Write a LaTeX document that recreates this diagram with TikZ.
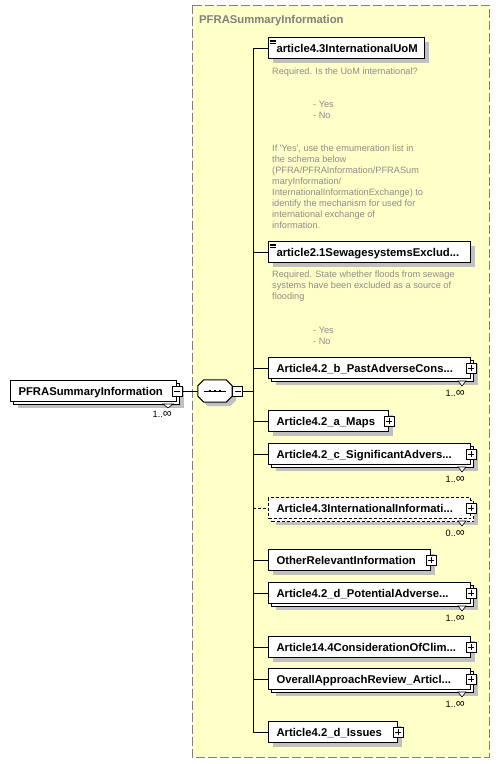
\documentclass[tikz,border=0pt]{standalone}
\usepackage{fontspec}
\setsansfont{Liberation Sans}
\usetikzlibrary{positioning,shadows}

\definecolor{groupfill}{RGB}{255,255,200}
\definecolor{groupline}{RGB}{128,128,128}
\definecolor{shadowgray}{RGB}{192,192,192}
\definecolor{notegray}{RGB}{140,140,140}
\newcommand\unbounded{{\fontsize{12.5}{12}\selectfont ∞}}

\begin{document}
\begin{tikzpicture}[
  x=1pt, y=-1pt,
  font=\sffamily,
  box/.style={draw, fill=white, line width=1pt, anchor=west, align=left,
              text width=#1, minimum height=21pt, inner xsep=8pt, inner ysep=0pt,
              text height=10pt, text depth=1.6pt,
              font=\sffamily\bfseries\fontsize{11.3}{13}\selectfont},
  box/.default=186pt,
  elem/.style={box=#1, drop shadow={shadow xshift=4pt, shadow yshift=-4pt,
               fill=shadowgray, draw=none, opacity=1}},
  elem/.default=186pt,
  multi/.style={box=#1, drop shadow={shadow xshift=7pt, shadow yshift=-6pt,
                fill=shadowgray, draw=none, opacity=1},
                copy shadow={shadow xshift=3pt, shadow yshift=-3pt, draw, fill=white}},
  multi/.default=186pt,
  optional/.style={dash pattern=on 3pt off 2pt},
  toggle/.style={draw, fill=white, line width=0.8pt, minimum size=10pt, inner sep=0pt},
  plus/.style={toggle, path picture={
      \draw ([xshift=-3pt]path picture bounding box.center) -- ([xshift=3pt]path picture bounding box.center);
      \draw ([yshift=-3pt]path picture bounding box.center) -- ([yshift=3pt]path picture bounding box.center);}},
  minus/.style={toggle, path picture={
      \draw ([xshift=-3pt]path picture bounding box.center) -- ([xshift=3pt]path picture bounding box.center);}},
  seq/.style={minimum width=34pt, minimum height=22pt, inner sep=0pt},
  octagon/.style={draw, fill=white, line width=1pt,
              drop shadow={shadow xshift=4pt, shadow yshift=-4pt, fill=shadowgray, draw=none, opacity=1}},
  card/.style={anchor=base east, inner sep=0pt, font=\sffamily\fontsize{9.2}{11}\selectfont},
  note/.style={anchor=base west, inner sep=0pt, align=left, text=notegray,
               font=\sffamily\fontsize{9.2}{11}\selectfont},
  grouptitle/.style={anchor=base west, inner sep=0pt, text=groupline,
               font=\sffamily\bfseries\fontsize{11.3}{13}\selectfont},
  wire/.style={line width=1pt},
  chev/.style={fill=white, line width=0.6pt},
]
  \useasboundingbox (0,0) rectangle (500,764);

  % group
  \draw[fill=groupfill, draw=groupline, line width=1pt, dash pattern=on 9pt off 3pt]
    (192,5) rectangle (489,757);
  \node[grouptitle] (grp) at (199,23) {PFRASummaryInformation};

  % bus
  \coordinate (bustop) at (253,48);
  \coordinate (busend) at (253,732);
  \draw[wire] (bustop) -- (busend);

  % left element and sequence
  \node[multi=150pt] (pfra) at (10,391) {PFRASummaryInformation};
  \node[minus] (pfrax) at (pfra.east) {};
  \draw[chev] ([shift={(-14pt,-2pt)}]pfra.south east) -- ++(5,4) -- ++(5,-4) -- cycle;
  \node[card] (pfrac) at ([shift={(-5pt,-15.5pt)}]pfra.south east) {1..\unbounded};
  \node[seq] (pfraseq) at (215,391) {};
  \draw[octagon] ([xshift=6pt]pfraseq.north west) -- ([xshift=-6pt]pfraseq.north east)
    -- ([yshift=-6pt]pfraseq.north east) -- ([yshift=6pt]pfraseq.south east)
    -- ([xshift=-6pt]pfraseq.south east) -- ([xshift=6pt]pfraseq.south west)
    -- ([yshift=6pt]pfraseq.south west) -- ([yshift=-6pt]pfraseq.north west) -- cycle;
  \draw[line width=1pt] (pfraseq.center) +(-11,0) -- +(11,0);
  \foreach \d in {-5,0,5}
    \fill ([xshift=\d pt]pfraseq.center) +(-1.4,-1.4) rectangle +(1.4,1.4);
  \node[minus, right=0pt of pfraseq] (pfraseqx) {};
  \draw[wire] (pfrax) -- (pfraseq);
  \draw[wire] (pfraseqx) -- (bustop |- pfraseqx);

  % children
  \node[elem=140pt] (uom) at (268,48) {article4.3InternationalUoM};
  \node[elem] (sewage) at (268,252) {article2.1SewagesystemsExclud...};
  \node[multi] (past) at (268,368) {Article4.2\_b\_PastAdverseCons...};
  \node[elem=104pt] (maps) at (268,421) {Article4.2\_a\_Maps};
  \node[multi] (signif) at (268,454) {Article4.2\_c\_SignificantAdvers...};
  \node[multi, optional] (intl) at (268,508) {Article4.3InternationalInformati...};
  \node[elem=146pt] (other) at (268,560) {OtherRelevantInformation};
  \node[multi] (potential) at (268,593) {Article4.2\_d\_PotentialAdverse...};
  \node[elem] (climate) at (268,647) {Article14.4ConsiderationOfClim...};
  \node[multi] (review) at (268,679) {OverallApproachReview\_Articl...};
  \node[elem=113pt] (issues) at (268,732) {Article4.2\_d\_Issues};

  \foreach \n in {uom,sewage,past,maps,signif,other,potential,climate,review,issues}
    \draw[wire] (bustop |- \n) -- (\n);
  \draw[wire, optional] (bustop |- intl) -- (intl);

  % annotation marks
  \foreach \n in {uom,sewage}
    \foreach \d in {3,4.6,6.2}
      \draw[line width=0.6pt] ([shift={(1.5pt,-\d pt)}]\n.north west) -- ++(6,0);

  % expand boxes
  \foreach \n in {past,maps,signif,intl,other,potential,climate,review,issues}
    \node[plus] (\n x) at (\n.east) {};

  % occurrences
  \foreach \n/\c in {past/1,signif/1,intl/0,potential/1,review/1}{
    \draw[chev] ([shift={(-13pt,-2pt)}]\n.south east) -- ++(4,5) -- ++(4,-5) -- cycle;
    \node[card] (\n c) at ([shift={(-6pt,-17.5pt)}]\n.south east) {\c..\unbounded};
  }

  % documentation (anchored on the baseline of the last line)
  \node[note] (uomnote) at (272,74.5) {Required. Is the UoM international?};
  \node[note] (uomyes) at (313,118) {- Yes\\- No};
  \node[note] (uominfo) at (272,228) {If \textquotesingle Yes\textquotesingle, use the emumeration list in\\
    the schema below\\(PFRA/PFRAInformation/PFRASum\\maryInformation/\\
    InternationalInformationExchange) to\\identify the mechanism for used for\\
    international exchange of\\information.};
  \node[note] (sewnote) at (272,299.7) {Required. State whether floods from sewage\\
    systems have been excluded as a source of\\flooding};
  \node[note] (sewyes) at (313,344.5) {- Yes\\- No};
\end{tikzpicture}
\end{document}
